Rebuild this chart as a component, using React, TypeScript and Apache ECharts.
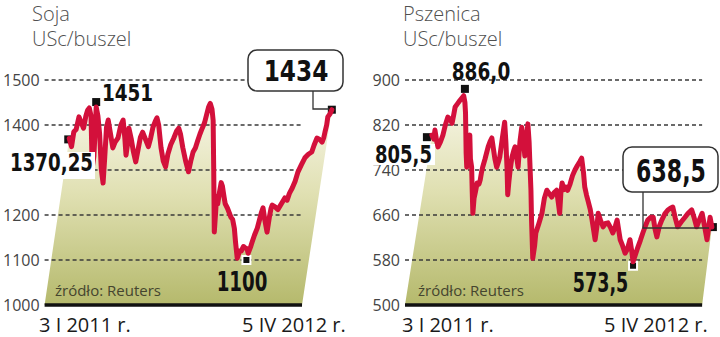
import React, { useEffect, useRef } from 'react';
import * as echarts from 'echarts';

// ---- Soja (USc/buszel), days counted from 3 I 2011 ----
const sojaDays = [0, 4, 8, 12, 17, 21, 25, 29, 32, 35, 38, 40, 43, 47, 50, 53, 56, 59, 62, 65, 68, 72, 76, 80, 85, 90, 94, 97, 99, 102, 104, 108, 112, 116, 120, 124, 128, 134, 138, 142, 146, 150, 153, 156, 160, 164, 168, 172, 177, 182, 187, 191, 194, 198, 203, 208, 212, 216, 220, 224, 228, 232, 236, 239, 243, 246, 249, 251, 252, 253, 255, 257, 259, 262, 265, 267, 270, 272, 276, 279, 282, 285, 288, 290, 293, 297, 300, 304, 307, 310, 312, 316, 319, 323, 328, 332, 335, 338, 341, 345, 349, 352, 354, 359, 364, 370, 376, 380, 384, 389, 394, 399, 405, 411, 417, 423, 427, 432, 437, 441, 444, 446, 449, 451, 455, 458];
const sojaValues = [1370, 1352, 1385, 1390, 1418, 1405, 1393, 1420, 1433, 1438, 1420, 1304, 1330, 1440, 1420, 1380, 1300, 1271, 1330, 1395, 1411, 1380, 1349, 1362, 1371, 1400, 1411, 1370, 1333, 1360, 1393, 1370, 1340, 1318, 1345, 1372, 1384, 1365, 1352, 1371, 1395, 1408, 1416, 1400, 1350, 1320, 1307, 1335, 1356, 1370, 1386, 1393, 1380, 1350, 1320, 1296, 1320, 1340, 1349, 1365, 1380, 1393, 1405, 1420, 1440, 1448, 1435, 1410, 1300, 1162, 1200, 1240, 1225, 1250, 1272, 1265, 1240, 1225, 1215, 1205, 1195, 1190, 1170, 1140, 1104, 1120, 1120, 1130, 1127, 1125, 1115, 1128, 1140, 1155, 1171, 1190, 1205, 1216, 1190, 1162, 1195, 1215, 1222, 1218, 1212, 1225, 1238, 1233, 1248, 1260, 1275, 1296, 1312, 1327, 1335, 1340, 1355, 1371, 1368, 1362, 1372, 1384, 1400, 1418, 1425, 1434];
const sojaTicks = [1000, 1100, 1200, 1300, 1400, 1500];
const sojaMarkDays = [0, 47, 309, 458];
const sojaMarkValues = [1370.25, 1451, 1100, 1434];
const sojaMarkLabels = ['1370,25', '1451', '1100', '1434'];

// ---- Pszenica (USc/buszel) ----
const pszenicaDays = [0, 3, 5, 8, 10, 14, 18, 22, 26, 30, 33, 36, 38, 42, 46, 49, 52, 54, 55, 56, 57, 59, 62, 63, 65, 66, 67, 69, 71, 74, 77, 79, 81, 83, 87, 92, 95, 98, 101, 103, 106, 109, 111, 115, 119, 121, 123, 124, 126, 128, 131, 134, 136, 139, 141, 144, 147, 150, 152, 155, 157, 159, 160, 162, 163, 165, 168, 170, 175, 180, 184, 188, 192, 196, 200, 204, 207, 209, 211, 213, 216, 218, 222, 226, 230, 234, 238, 242, 245, 248, 250, 253, 255, 259, 262, 265, 267, 270, 272, 276, 280, 284, 288, 292, 296, 300, 303, 306, 308, 312, 316, 320, 324, 327, 329, 333, 337, 341, 345, 349, 353, 358, 362, 365, 368, 372, 376, 381, 386, 390, 394, 398, 402, 408, 414, 419, 425, 429, 433, 437, 442, 446, 450, 453, 455, 458];
const pszenicaValues = [802, 795, 811, 790, 781, 790, 802, 820, 834, 830, 823, 840, 852, 858, 864, 868, 872, 860, 841, 770, 745, 790, 802, 760, 745, 700, 663, 690, 700, 717, 715, 722, 735, 745, 760, 781, 790, 797, 775, 760, 745, 755, 763, 795, 825, 790, 740, 696, 720, 740, 763, 775, 781, 760, 745, 790, 816, 790, 765, 800, 822, 790, 760, 704, 650, 583, 605, 628, 645, 663, 690, 704, 698, 692, 700, 704, 680, 663, 700, 717, 705, 710, 704, 715, 730, 740, 748, 755, 761, 735, 710, 695, 687, 670, 651, 630, 616, 640, 663, 650, 639, 645, 646, 638, 628, 640, 651, 630, 616, 605, 592, 600, 616, 595, 577, 590, 603, 615, 628, 640, 651, 656, 656, 635, 621, 640, 651, 662, 669, 672, 674, 655, 639, 648, 656, 663, 669, 655, 639, 650, 663, 640, 616, 640, 656, 638.5];
const pszenicaTicks = [500, 580, 660, 740, 820, 900];
const pszenicaMarkDays = [0, 54, 329, 458];
const pszenicaMarkValues = [805.5, 886.0, 573.5, 638.5];
const pszenicaMarkLabels = ['805,5', '886,0', '573,5', '638,5'];

const dateLabels = ['3 I 2011 r.', '5 IV 2012 r.'];
const titles = ['Soja', 'Pszenica'];
const unit = 'USc/buszel';
const source = 'źródło: Reuters';

// layout (axis day extents)
const sojaX = { min: -43, max: 470, floor: 406 };
const pszX = { min: -44, max: 470, floor: 442 };

const RED = '#d3103b';
const SANS = "'Open Sans', 'DejaVu Sans', sans-serif";
const BOLD = "'DejaVu Sans', sans-serif";

function fillSeries(idx: number, days: number[], values: number[], xr: any, yMin: number) {
  return {
    type: 'custom',
    xAxisIndex: idx,
    yAxisIndex: idx,
    z: 1,
    clip: false,
    silent: true,
    data: [[days[0], values[0]]],
    renderItem: (params: any, api: any) => {
      const pts = days.map((d, i) => api.coord([d, values[i]]));
      pts.push(api.coord([xr.floor, yMin]));
      pts.push(api.coord([xr.min, yMin]));
      return {
        type: 'polygon',
        shape: { points: pts },
        style: {
          fill: new echarts.graphic.LinearGradient(0, 0, 0, 1, [
            { offset: 0, color: '#f8f6e8' },
            { offset: 0.45, color: '#e0e0b2' },
            { offset: 1, color: '#b5b96c' },
          ]),
        },
      };
    },
  };
}

function gridSeries(idx: number, ticks: number[], xr: any) {
  return {
    type: 'custom',
    xAxisIndex: idx,
    yAxisIndex: idx,
    z: 3,
    clip: false,
    silent: true,
    data: ticks.map((t) => [xr.min, t]),
    renderItem: (params: any, api: any) => {
      const v = api.value(1);
      const p1 = api.coord([xr.min, v]);
      const p2 = api.coord([xr.floor, v]);
      const base = v === ticks[0];
      return {
        type: 'line',
        shape: { x1: p1[0], y1: p1[1], x2: p2[0], y2: p2[1] },
        style: base
          ? { stroke: '#111', lineWidth: 3.6 }
          : { stroke: '#3a3a3a', lineWidth: 1.3, lineDash: [4, 3] },
      };
    },
  };
}

function lineSeries(idx: number, days: number[], values: number[], mDays: number[], mValues: number[], offsets: number[][]) {
  return {
    type: 'line',
    xAxisIndex: idx,
    yAxisIndex: idx,
    z: 5,
    clip: false,
    silent: true,
    showSymbol: false,
    data: days.map((d, i) => [d, values[i]]),
    lineStyle: { color: RED, width: 5, join: 'round', cap: 'round' },
    markPoint: {
      silent: true,
      symbol: 'rect',
      symbolSize: 8,
      label: { show: false },
      data: mDays.map((d, i) => ({
        coord: [d, mValues[i]],
        symbolOffset: offsets[i],
        itemStyle: i === 2
          ? { color: '#111', borderColor: '#fff', borderWidth: 2 }
          : { color: '#111' },
      })),
    },
  };
}

function txt(text: string, x: number, y: number, style: any, extra: any = {}) {
  return { type: 'text', x, y, z: 100, silent: true, ...extra, style: { text, verticalAlign: 'middle', ...style } };
}

function num(text: string, cx: number, cy: number, fs: number, sx: number) {
  return {
    type: 'text', x: cx, y: cy, z: 102, silent: true, scaleX: sx,
    style: { text, fontFamily: BOLD, fontWeight: 'bold', fontSize: fs, fill: '#111', align: 'center', verticalAlign: 'middle' },
  };
}

function whiteRect(x: number, y: number, w: number, h: number) {
  return { type: 'rect', z: 101, silent: true, shape: { x, y, width: w, height: h }, style: { fill: '#fff' } };
}

export default function App() {
  const ref = useRef<HTMLDivElement>(null);
  useEffect(() => {
    if (!ref.current) return;
    const chart = echarts.init(ref.current, null, { renderer: 'svg' });
    const titleStyle = { fontFamily: SANS, fontSize: 20, fontWeight: 300, fill: '#505050' };
    const dateStyle = { fontFamily: SANS, fontSize: 20, fill: '#1a1a1a' };
    const srcStyle = { fontFamily: SANS, fontSize: 15, fill: '#45452f' };
    const boxStyle = { fill: '#fff', stroke: '#333', lineWidth: 1.5 };
    const connStyle = { stroke: '#333', lineWidth: 1.3, fill: null };
    const fmt = (v: number) => String(v);

    chart.setOption({
      animation: false,
      grid: [
        { left: 43, top: 80, width: (sojaX.max - sojaX.min) / 1.7348, height: 225 },
        { left: 405, top: 80, width: (pszX.max - pszX.min) / 1.6357, height: 225 },
      ],
      xAxis: [
        { type: 'value', gridIndex: 0, min: sojaX.min, max: sojaX.max, show: false },
        { type: 'value', gridIndex: 1, min: pszX.min, max: pszX.max, show: false },
      ],
      yAxis: [
        {
          type: 'value', gridIndex: 0, min: 1000, max: 1500, interval: 100, z: 3,
          axisLine: { show: false }, axisTick: { show: false }, splitLine: { show: false },
          axisLabel: { color: '#444', fontSize: 16, fontFamily: SANS, margin: 5, formatter: fmt },
        },
        {
          type: 'value', gridIndex: 1, min: 500, max: 900, z: 3,
          axisLine: { show: false }, axisTick: { show: false }, splitLine: { show: false },
          axisLabel: { color: '#444', fontSize: 16, fontFamily: SANS, margin: 5, customValues: pszenicaTicks, formatter: fmt },
        },
      ],
      series: [
        fillSeries(0, sojaDays, sojaValues, sojaX, sojaTicks[0]),
        gridSeries(0, sojaTicks, sojaX),
        lineSeries(0, sojaDays, sojaValues, sojaMarkDays, sojaMarkValues, [[-1, 1], [0, 0], [0, 0], [0, 0]]),
        fillSeries(1, pszenicaDays, pszenicaValues, pszX, pszenicaTicks[0]),
        gridSeries(1, pszenicaTicks, pszX),
        lineSeries(1, pszenicaDays, pszenicaValues, pszenicaMarkDays, pszenicaMarkValues, [[-5, 4], [0, 1], [0, 2], [1, 0]]),
      ],
      graphic: {
        elements: [
          txt(titles[0], 32, 13, titleStyle),
          txt(unit, 32, 38, titleStyle),
          txt(titles[1], 403, 13, titleStyle),
          txt(unit, 403, 38, titleStyle),
          txt(dateLabels[0], 39, 324, dateStyle),
          txt(dateLabels[1], 242, 324, dateStyle),
          txt(dateLabels[0], 402, 324, dateStyle),
          txt(dateLabels[1], 604, 324, dateStyle),
          txt(source, 55, 290, srcStyle),
          txt(source, 418, 290, srcStyle),
          // Soja annotations
          whiteRect(0, 152, 95, 27),
          num(sojaMarkLabels[0], 51.5, 163, 24, 0.76),
          num(sojaMarkLabels[1], 127.5, 93.5, 23, 0.8),
          num(sojaMarkLabels[2], 242, 282, 26, 0.7),
          { type: 'polyline', z: 100, silent: true, shape: { points: [[313, 90], [313, 109], [329, 109]] }, style: connStyle },
          { type: 'rect', z: 101, silent: true, shape: { x: 248, y: 50, width: 95, height: 41, r: 9 }, style: boxStyle },
          num(sojaMarkLabels[3], 296, 71, 28, 0.83),
          // Pszenica annotations
          whiteRect(371, 144, 64, 21),
          num(pszenicaMarkLabels[0], 403.5, 155, 24, 0.75),
          num(pszenicaMarkLabels[1], 481, 71, 25, 0.74),
          num(pszenicaMarkLabels[2], 600.5, 283, 27, 0.65),
          { type: 'polyline', z: 100, silent: true, shape: { points: [[643, 191], [643, 228], [709, 228]] }, style: connStyle },
          { type: 'rect', z: 101, silent: true, shape: { x: 623, y: 147, width: 95, height: 45, r: 9 }, style: boxStyle },
          num(pszenicaMarkLabels[3], 671, 170, 32, 0.69),
        ],
      },
    });
    return () => chart.dispose();
  }, []);
  return <div ref={ref} style={{ position: 'absolute', left: 0, top: 0, width: 720, height: 337 }} />;
}
